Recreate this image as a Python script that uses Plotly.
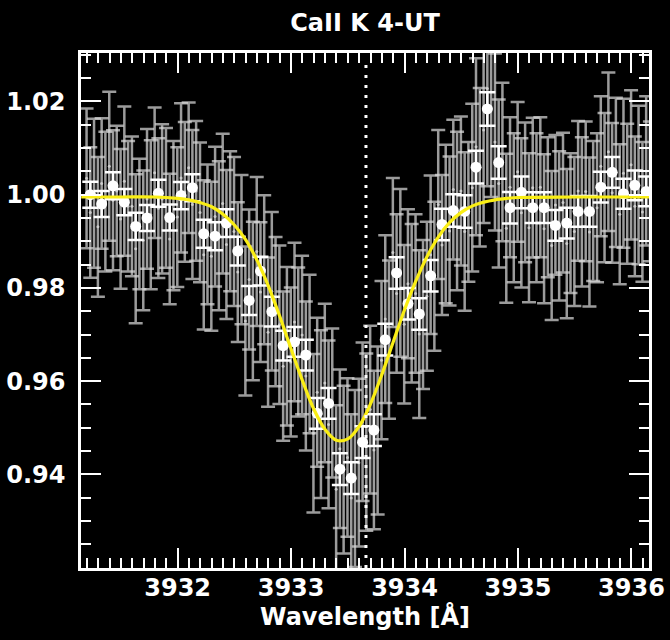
import plotly.graph_objects as go

# ---------------- data ----------------
TITLE = "CaII K 4-UT"
X_TITLE = "Wavelength [Å]"
REST_WAVELENGTH = 3933.66

X_TICKS = [3932, 3933, 3934, 3935, 3936]
Y_TICKS = [0.94, 0.96, 0.98, 1.00, 1.02]

# binned (white) spectrum
BIN_WAVE = [3931.23, 3931.33, 3931.43, 3931.53, 3931.63, 3931.73, 3931.83, 3931.93, 3932.03, 3932.13,
            3932.23, 3932.33, 3932.43, 3932.53, 3932.63, 3932.73, 3932.83, 3932.93, 3933.03, 3933.13,
            3933.23, 3933.33, 3933.43, 3933.53, 3933.63, 3933.73, 3933.83, 3933.93, 3934.03, 3934.13,
            3934.23, 3934.33, 3934.43, 3934.53, 3934.63, 3934.73, 3934.83, 3934.93, 3935.03, 3935.13,
            3935.23, 3935.33, 3935.43, 3935.53, 3935.63, 3935.73, 3935.83, 3935.93, 3936.03, 3936.13]
BIN_FLUX = [1.0000, 0.9980, 1.0019, 0.9984, 0.9932, 0.9950, 1.0003, 0.9951, 0.9998, 1.0015,
            0.9916, 0.9911, 0.9939, 0.9879, 0.9773, 0.9836, 0.9749, 0.9676, 0.9684, 0.9656,
            0.9531, 0.9552, 0.9411, 0.9392, 0.9469, 0.9495, 0.9689, 0.9832, 0.9766, 0.9744,
            0.9826, 0.9936, 0.9966, 0.9964, 1.0059, 1.0184, 1.0069, 0.9972, 1.0005, 0.9972,
            0.9972, 0.9934, 0.9939, 0.9964, 0.9964, 1.0016, 1.0048, 1.0002, 1.0020, 1.0007]
BIN_ERR = [0.0028, 0.0028, 0.0029, 0.0028, 0.0029, 0.0028, 0.0029, 0.0028, 0.0029, 0.0029,
           0.0030, 0.0030, 0.0030, 0.0031, 0.0031, 0.0031, 0.0032, 0.0032, 0.0032, 0.0033,
           0.0033, 0.0033, 0.0034, 0.0034, 0.0034, 0.0034, 0.0034, 0.0034, 0.0034, 0.0034,
           0.0034, 0.0034, 0.0035, 0.0035, 0.0035, 0.0036, 0.0035, 0.0034, 0.0034, 0.0033,
           0.0033, 0.0033, 0.0033, 0.0033, 0.0033, 0.0033, 0.0033, 0.0032, 0.0032, 0.0032]

# unbinned (grey) spectrum: three sub-pixels per bin
SUB_OFFSET = [-0.033, 0.0, 0.033]
PIX_FLUX = [1.0035, 0.9962, 1.0003, 0.9931, 1.0024, 0.9985, 1.0061, 0.9988, 1.0008, 0.9948, 1.0029, 0.9975,
            0.9975, 0.9884, 0.9937, 0.9902, 0.9991, 0.9957, 1.0047, 0.9971, 0.9991, 0.9993, 0.9905, 0.9955,
            0.9952, 1.0036, 1.0006, 1.0058, 0.9979, 1.0008, 0.9962, 0.9871, 0.9915, 0.9868, 0.9953, 0.9912,
            0.9981, 0.9893, 0.9943, 0.9921, 0.9834, 0.9882, 0.9729, 0.9818, 0.9772, 0.9878, 0.9791, 0.9839,
            0.9705, 0.9793, 0.9749, 0.9721, 0.9632, 0.9675, 0.9641, 0.9727, 0.9684, 0.9699, 0.9611, 0.9658,
            0.9488, 0.9576, 0.9529, 0.9596, 0.9507, 0.9553, 0.9368, 0.9455, 0.9410, 0.9436, 0.9349, 0.9391,
            0.9425, 0.9513, 0.9469, 0.9539, 0.9452, 0.9494, 0.9645, 0.9733, 0.9689, 0.9876, 0.9788, 0.9832,
            0.9722, 0.9809, 0.9767, 0.9788, 0.9701, 0.9743, 0.9782, 0.9871, 0.9825, 0.9979, 0.9892, 0.9937,
            0.9922, 1.0011, 0.9965, 1.0008, 0.9921, 0.9963, 1.0015, 1.0103, 1.0059, 1.0139, 1.0228, 1.0185,
            1.0113, 1.0024, 1.0070, 0.9928, 1.0016, 0.9972, 1.0049, 0.9961, 1.0005, 0.9929, 1.0015, 0.9972,
            1.0016, 0.9927, 0.9973, 0.9891, 0.9978, 0.9933, 0.9983, 0.9895, 0.9939, 0.9921, 1.0008, 0.9963,
            1.0007, 0.9920, 0.9965, 0.9972, 1.0061, 1.0015, 1.0092, 1.0004, 1.0048, 0.9958, 1.0046, 1.0002,
            1.0064, 0.9975, 1.0021, 0.9963, 1.0051, 1.0007]
PIX_ERR = [0.015, 0.014, 0.016, 0.015, 0.014, 0.015, 0.016, 0.015, 0.014, 0.015, 0.016, 0.014,
           0.015, 0.016, 0.014, 0.015, 0.015, 0.016, 0.014, 0.015, 0.016, 0.015, 0.014, 0.016,
           0.015, 0.016, 0.015, 0.014, 0.016, 0.015, 0.015, 0.016, 0.015, 0.016, 0.015, 0.016,
           0.015, 0.016, 0.015, 0.016, 0.015, 0.016, 0.016, 0.015, 0.017, 0.016, 0.015, 0.016,
           0.016, 0.017, 0.016, 0.017, 0.016, 0.017, 0.016, 0.017, 0.016, 0.017, 0.016, 0.017,
           0.017, 0.016, 0.018, 0.017, 0.018, 0.016, 0.018, 0.017, 0.018, 0.017, 0.018, 0.019,
           0.018, 0.017, 0.019, 0.018, 0.017, 0.018, 0.017, 0.018, 0.017, 0.016, 0.017, 0.018,
           0.017, 0.016, 0.017, 0.017, 0.018, 0.016, 0.016, 0.017, 0.016, 0.016, 0.015, 0.017,
           0.016, 0.015, 0.017, 0.016, 0.017, 0.015, 0.018, 0.019, 0.017, 0.020, 0.021, 0.019,
           0.019, 0.018, 0.017, 0.016, 0.015, 0.016, 0.015, 0.016, 0.015, 0.016, 0.015, 0.016,
           0.015, 0.016, 0.015, 0.016, 0.015, 0.016, 0.015, 0.016, 0.015, 0.016, 0.015, 0.016,
           0.015, 0.016, 0.015, 0.016, 0.015, 0.016, 0.017, 0.015, 0.016, 0.015, 0.016, 0.015,
           0.016, 0.015, 0.017, 0.015, 0.016, 0.015]

# Gaussian fit (yellow), sampled from the reference curve
FIT_WAVE = [3931.15, 3931.5, 3931.8,
            3932.0, 3932.1, 3932.2, 3932.3, 3932.4, 3932.5, 3932.6, 3932.7, 3932.8, 3932.9,
            3933.0, 3933.1, 3933.2, 3933.3, 3933.4, 3933.5, 3933.6, 3933.7, 3933.8, 3933.9,
            3934.0, 3934.1, 3934.2, 3934.3, 3934.4, 3934.5, 3934.6, 3934.7, 3934.8, 3934.9,
            3935.0, 3935.5, 3936.16]
FIT_FLUX = [0.9995, 0.9995, 0.9995,
            0.9992, 0.9989, 0.9983, 0.9974, 0.9958, 0.9935, 0.9903, 0.9859, 0.9804, 0.9739,
            0.9669, 0.9601, 0.9540, 0.9496, 0.9473, 0.9476, 0.9503, 0.9551, 0.9614, 0.9684,
            0.9753, 0.9815, 0.9868, 0.9910, 0.9941, 0.9962, 0.9976, 0.9984, 0.9989, 0.9992,
            0.9994, 0.9995, 0.9995]

X_RANGE = [3931.148, 3936.155]
Y_RANGE = [0.9199, 1.0304]

# ---------------- figure ----------------
pix_wave = [w + o for w in BIN_WAVE for o in SUB_OFFSET]

FONT = "DejaVu Sans"
fig = go.Figure()

fig.add_trace(go.Scatter(
    x=pix_wave, y=PIX_FLUX, mode="markers",
    marker=dict(size=3, color="rgba(215,215,215,0.85)"),
    error_y=dict(type="data", array=PIX_ERR, visible=True,
                 color="rgba(215,215,215,0.72)", thickness=2.5, width=7),
    showlegend=False, hoverinfo="skip",
))

fig.add_trace(go.Scatter(
    x=BIN_WAVE, y=BIN_FLUX, mode="markers",
    marker=dict(size=11, color="white"),
    error_y=dict(type="data", array=BIN_ERR, visible=True,
                 color="white", thickness=2.5, width=8),
    showlegend=False,
))

fig.add_trace(go.Scatter(
    x=FIT_WAVE, y=FIT_FLUX, mode="lines",
    line=dict(color="rgb(250,238,20)", width=3.2, shape="spline"),
    showlegend=False,
))

fig.add_shape(type="line", xref="x", yref="y",
              x0=REST_WAVELENGTH, x1=REST_WAVELENGTH, y0=Y_RANGE[0], y1=1.0285,
              line=dict(color="white", width=3, dash="3px,7px"), layer="above")

axis_common = dict(
    showline=True, linecolor="white", linewidth=2.5, mirror="allticks",
    ticks="inside", tickcolor="white", tickwidth=2, ticklen=20,
    showgrid=False, zeroline=False, automargin=False,
    tickfont=dict(family=FONT, size=24, color="white", weight="bold"),
)

fig.update_xaxes(
    range=X_RANGE, tickvals=X_TICKS, ticktext=[str(v) for v in X_TICKS],
    minor=dict(dtick=0.1, tick0=3932, ticks="inside", ticklen=10, tickcolor="white", tickwidth=2),
    title=dict(text=X_TITLE, font=dict(family=FONT, size=24, color="white", weight="bold"), standoff=4),
    ticklabelstandoff=-4,
    **axis_common,
)
fig.update_yaxes(
    range=Y_RANGE, tickvals=Y_TICKS, ticktext=[f"{v:.2f}" for v in Y_TICKS],
    minor=dict(dtick=0.005, tick0=0.94, ticks="inside", ticklen=10, tickcolor="white", tickwidth=2),
    ticklabelstandoff=8,
    **axis_common,
)

fig.update_layout(
    width=670, height=640, autosize=False,
    margin=dict(l=81, r=21, t=53, b=72),
    paper_bgcolor="black", plot_bgcolor="black",
    title=dict(text=TITLE, xref="paper", x=0.5, xanchor="center",
               yref="container", y=0.965, yanchor="middle", automargin=False,
               font=dict(family=FONT, size=24, color="white", weight="bold")),
)

fig.write_html(
    "out.html",
    config={"displayModeBar": False},
    post_script="document.body.style.margin='0';document.body.style.padding='0';"
                "document.body.style.background='black';document.body.style.overflow='hidden';",
)
